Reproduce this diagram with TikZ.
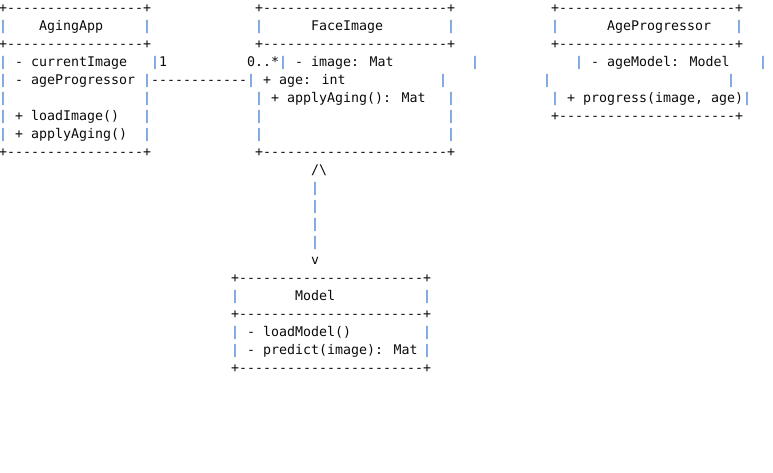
\documentclass[tikz,border=0pt]{standalone}
\usepackage{fontspec}
\newfontfamily\asciimono{DejaVu Sans Mono}[Ligatures=TeXOff]
\definecolor{ink}{RGB}{10,10,10}
\definecolor{pipe}{RGB}{35,105,200}
\tikzset{
  txt/.style={anchor=base west,inner sep=0pt,outer sep=0pt,text=ink,
    font=\asciimono\fontsize{13.29}{16}\selectfont},
  pipech/.style={txt,text=pipe}
}
\newcommand\putxt[3]{\node[txt] (c#1r#2) at ({8*#1-1},{-(8+18*#2)-4.5}) {#3};}
\newcommand\putpipe[2]{\node[pipech] (c#1r#2) at ({8*#1-1},{-(8+18*#2)-4.5}) {|};}
\begin{document}
\begin{tikzpicture}[x=1pt,y=1pt]
\useasboundingbox (0,0) rectangle (773,-473);
% ---- AgingApp ----
\putxt{0}{0}{+-----------------+}
\putpipe{0}{1}\putxt{5}{1}{AgingApp}\putpipe{18}{1}
\putxt{0}{2}{+-----------------+}
\putpipe{0}{3}\putxt{2}{3}{- currentImage}\putpipe{19}{3}\putxt{20}{3}{1}
\putpipe{0}{4}\putxt{2}{4}{- ageProgressor}\putpipe{18}{4}
\putpipe{0}{5}\putpipe{18}{5}
\putpipe{0}{6}\putxt{2}{6}{+ loadImage()}\putpipe{18}{6}
\putpipe{0}{7}\putxt{2}{7}{+ applyAging()}\putpipe{18}{7}
\putxt{0}{8}{+-----------------+}
% ---- association ----
\putxt{19}{4}{------------}
\putxt{31}{3}{0..*}
% ---- FaceImage ----
\putxt{32}{0}{+-----------------------+}
\putpipe{32}{1}\putxt{39}{1}{FaceImage}\putpipe{56}{1}
\putxt{32}{2}{+-----------------------+}
\putpipe{35}{3}\putxt{37}{3}{- image: Mat}\putpipe{59}{3}
\putpipe{31}{4}\putxt{33}{4}{+ age: int}\putpipe{55}{4}
\putpipe{32}{5}\putxt{34}{5}{+ applyAging(): Mat}\putpipe{56}{5}
\putpipe{32}{6}\putpipe{56}{6}
\putpipe{32}{7}\putpipe{56}{7}
\putxt{32}{8}{+-----------------------+}
% ---- AgeProgressor ----
\putxt{69}{0}{+----------------------+}
\putpipe{69}{1}\putxt{76}{1}{AgeProgressor}\putpipe{92}{1}
\putxt{69}{2}{+----------------------+}
\putpipe{72}{3}\putxt{74}{3}{- ageModel: Model}\putpipe{95}{3}
\putpipe{68}{4}\putpipe{91}{4}
\putpipe{69}{5}\putxt{71}{5}{+ progress(image, age)}\putpipe{93}{5}
\putxt{69}{6}{+----------------------+}
% ---- vertical link ----
\putxt{39}{9}{/\textbackslash}
\putpipe{39}{10}\putpipe{39}{11}\putpipe{39}{12}\putpipe{39}{13}
\putxt{39}{14}{v}
% ---- Model ----
\putxt{29}{15}{+-----------------------+}
\putpipe{29}{16}\putxt{37}{16}{Model}\putpipe{53}{16}
\putxt{29}{17}{+-----------------------+}
\putpipe{29}{18}\putxt{31}{18}{- loadModel()}\putpipe{53}{18}
\putpipe{29}{19}\putxt{31}{19}{- predict(image): Mat}\putpipe{53}{19}
\putxt{29}{20}{+-----------------------+}
\end{tikzpicture}
\end{document}
